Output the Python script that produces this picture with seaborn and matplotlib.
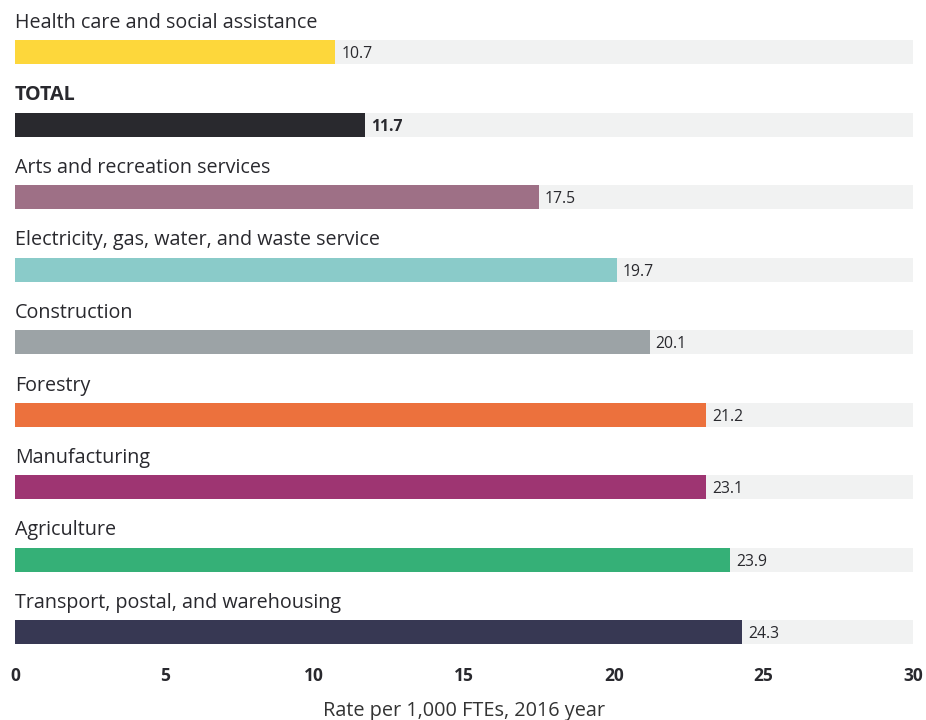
import matplotlib
matplotlib.use("Agg")
import matplotlib.pyplot as plt
import seaborn as sns
import pandas as pd

categories = ["Health care and social assistance", "TOTAL", "Arts and recreation services",
              "Electricity, gas, water, and waste service", "Construction", "Forestry",
              "Manufacturing", "Agriculture", "Transport, postal, and warehousing"]
value_labels = [10.7, 11.7, 17.5, 19.7, 20.1, 21.2, 23.1, 23.9, 24.3]
# bar lengths as drawn in the reference (some differ from the printed labels)
bar_lengths = [10.7, 11.7, 17.5, 20.1, 21.2, 23.1, 23.1, 23.9, 24.3]
colors = ["#fdd73b", "#29292e", "#9e7086", "#8acbc9", "#9ca3a6", "#ec713d",
          "#9e3572", "#35b077", "#373853"]
axis_max = 30
xticks = [0, 5, 10, 15, 20, 25, 30]
xlabel = "Rate per 1,000 FTEs, 2016 year"

sns.set_theme(style="white")
plt.rcParams["font.family"] = ["Open Sans", "DejaVu Sans"]

W, H = 926, 720
fig = plt.figure(figsize=(W / 100, H / 100), dpi=100)
ax = fig.add_axes([15 / W, 1 - 650 / H, (913 - 15) / W, 650 / H])

df = pd.DataFrame({"cat": categories, "val": bar_lengths, "bg": [axis_max] * len(categories)})
bh = 24 / 72.5
sns.barplot(data=df, x="bg", y="cat", color="#f1f2f2", width=bh, orient="h", ax=ax,
            saturation=1, linewidth=0)
sns.barplot(data=df, x="val", y="cat", hue="cat", palette=colors, width=bh, orient="h",
            ax=ax, legend=False, saturation=1, linewidth=0)

ax.set_xlim(0, axis_max)
ax.set_ylim(8 + (650 - 632) / 72.5, -52 / 72.5)
px = axis_max / (913 - 15)

for i, (c, lab, bl) in enumerate(zip(categories, value_labels, bar_lengths)):
    bold = c == "TOTAL"
    ax.text(0, i - 29 / 72.5, c, ha="left", va="center", fontsize=14.2,
            color="#29292e", fontweight="bold" if bold else "normal")
    ax.text(bl + 6 * px, i + 0.03, f"{lab:.1f}", ha="left", va="center", fontsize=11.3,
            color="#29292e", fontweight="bold" if bold else "normal")

ax.set_yticks([])
ax.set_ylabel("")
ax.set_xticks(xticks)
ax.set_xticklabels([str(t) for t in xticks], fontsize=12.5, fontweight="bold", color="#29292e")
ax.tick_params(axis="x", length=0, pad=12)
ax.set_xlabel(xlabel, fontsize=14.3, color="#333333", labelpad=12)
for s in ax.spines.values():
    s.set_visible(False)

fig.savefig("out.png", dpi=100)
